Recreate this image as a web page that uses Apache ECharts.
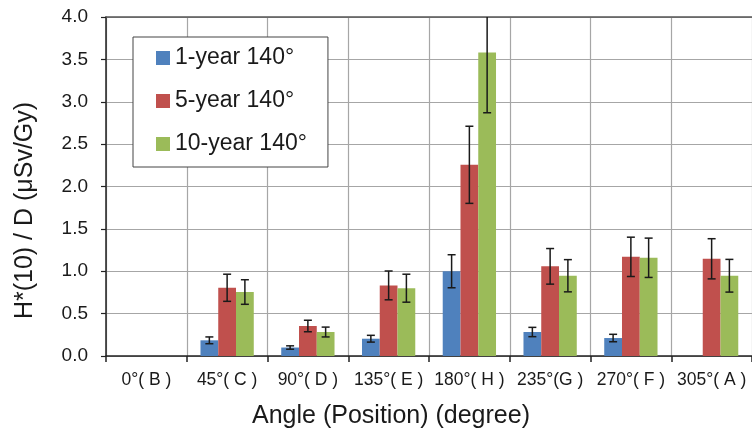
<!DOCTYPE html>
<html>
<head>
<meta charset="utf-8">
<script src="https://cdn.jsdelivr.net/npm/echarts@6/dist/echarts.min.js"></script>
<style>html,body{margin:0;padding:0;background:#fff;}#c{width:752px;height:434px;}</style>
</head>
<body>
<div id="c"></div>
<script>
var categories = ['0°( B )', '45°( C )', '90°( D )', '135°( E )', '180°( H )', '235°(G )', '270°( F )', '305°( A )'];
var seriesNames = ['1-year 140°', '5-year 140°', '10-year 140°'];
var oneYear  = [null, 0.185, 0.10, 0.204, 1.00, 0.283, 0.212, null];
var fiveYear = [null, 0.805, 0.354, 0.833, 2.256, 1.058, 1.17, 1.147];
var tenYear  = [null, 0.755, 0.283, 0.80, 3.58, 0.947, 1.159, 0.947];
var oneYearErr  = [null, 0.04, 0.02, 0.04, 0.195, 0.055, 0.044, null];
var fiveYearErr = [null, 0.16, 0.068, 0.17, 0.455, 0.21, 0.232, 0.237];
var tenYearErr  = [null, 0.145, 0.058, 0.165, 0.71, 0.19, 0.232, 0.193];
var yTicks = { min: 0, max: 4, interval: 0.5 };
var colors = ['#4F81BD', '#C0504D', '#9BBB59'];

var values = [oneYear, fiveYear, tenYear];
var errs = [oneYearErr, fiveYearErr, tenYearErr];
var catGap = 0.34;

function errData(s) {
  var out = [];
  for (var i = 0; i < categories.length; i++) {
    if (values[s][i] == null) continue;
    out.push([i, values[s][i], errs[s][i]]);
  }
  return out;
}

function makeErr(s) {
  return {
    type: 'custom',
    xAxisIndex: 0,
    yAxisIndex: 0,
    z: 10,
    clip: true,
    silent: true,
    data: errData(s),
    renderItem: function (params, api) {
      var idx = api.value(0), v = api.value(1), e = api.value(2);
      var band = api.size([1, 0])[0];
      var bw = band * (1 - catGap) / 3;
      var hi = Math.min(v + e, yTicks.max);
      var lo = v - e;
      var pHi = api.coord([idx, hi]);
      var pLo = api.coord([idx, lo]);
      var x = pHi[0] + (s - 1) * bw;
      var cap = 4;
      var style = { stroke: '#1a1a1a', lineWidth: 1.5 };
      var children = [
        { type: 'line', shape: { x1: x, y1: pHi[1], x2: x, y2: pLo[1] }, style: style },
        { type: 'line', shape: { x1: x - cap, y1: pLo[1], x2: x + cap, y2: pLo[1] }, style: style }
      ];
      if (v + e <= yTicks.max) {
        children.push({ type: 'line', shape: { x1: x - cap, y1: pHi[1], x2: x + cap, y2: pHi[1] }, style: style });
      }
      return { type: 'group', children: children };
    }
  };
}

var series = [];
for (var s = 0; s < 3; s++) {
  series.push({
    name: seriesNames[s],
    type: 'bar',
    xAxisIndex: 0,
    data: values[s],
    barGap: '0%',
    barCategoryGap: (catGap * 100) + '%',
    itemStyle: { color: colors[s] }
  });
}
for (var s2 = 0; s2 < 3; s2++) series.push(makeErr(s2));

var chart = echarts.init(document.getElementById('c'), null, { renderer: 'canvas' });
chart.setOption({
  animation: false,
  backgroundColor: '#ffffff',
  color: colors,
  grid: { left: 106, right: -8, top: 17, bottom: 78, containLabel: false },
  legend: {
    orient: 'vertical',
    left: 133,
    top: 37,
    padding: [7, 21, 9, 23],
    itemGap: 15,
    itemWidth: 14,
    itemHeight: 14,
    icon: 'rect',
    borderColor: '#444',
    borderWidth: 1,
    backgroundColor: '#fff',
    data: seriesNames,
    textStyle: { fontFamily: 'Liberation Sans, Arial, sans-serif', fontSize: 23, color: '#1a1a1a', lineHeight: 28 }
  },
  xAxis: [{
    type: 'category',
    data: categories,
    position: 'bottom',
    name: 'Angle (Position) (degree)',
    nameLocation: 'middle',
    nameGap: 48,
    nameTextStyle: { fontFamily: 'Liberation Sans, Arial, sans-serif', fontSize: 25, color: '#1a1a1a', padding: [0, 76, 0, 0] },
    axisLine: { show: true, lineStyle: { color: '#222', width: 1.5 } },
    axisTick: { show: true, interval: 0, length: 6, lineStyle: { color: '#222', width: 1.5 } },
    axisLabel: { interval: 0, margin: 15, fontFamily: 'Liberation Sans Narrow, Arial Narrow, Liberation Sans, sans-serif', fontSize: 17.5, color: '#1a1a1a' },
    splitLine: { show: true, interval: 0, lineStyle: { color: '#a6a6a6', width: 1.2 } }
  }, {
    type: 'category',
    data: categories,
    position: 'top',
    axisLine: { show: true, lineStyle: { color: '#555', width: 1.5 } },
    axisTick: { show: false },
    axisLabel: { show: false },
    splitLine: { show: false }
  }],
  yAxis: {
    type: 'value',
    min: yTicks.min,
    max: yTicks.max,
    interval: yTicks.interval,
    name: 'H*(10) / D (μSv/Gy)',
    nameLocation: 'middle',
    nameGap: 68,
    nameTextStyle: { fontFamily: 'Liberation Sans, Arial, sans-serif', fontSize: 25, color: '#1a1a1a', padding: [0, 48, 0, 0] },
    axisLine: { show: true, lineStyle: { color: '#222', width: 1.5 } },
    axisTick: { show: true, length: 5, lineStyle: { color: '#222', width: 1.2 } },
    axisLabel: { margin: 18, fontFamily: 'Liberation Sans, Arial, sans-serif', fontSize: 19, color: '#1a1a1a',
      formatter: function (v) { return v.toFixed(1); } },
    splitLine: { show: true, lineStyle: { color: '#a6a6a6', width: 1.2 } }
  },
  series: series
});
</script>
</body>
</html>
